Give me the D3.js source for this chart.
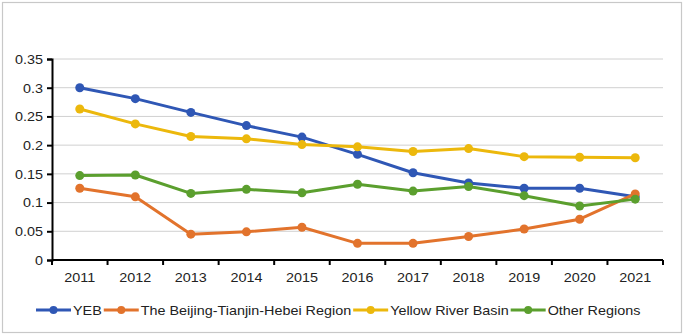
<!DOCTYPE html>
<html>
<head>
<meta charset="utf-8">
<script src="https://cdn.jsdelivr.net/npm/d3@7"></script>
<style>
  body { margin: 0; background: #fff; }
  svg { font-family: "Liberation Sans", Arial, sans-serif; }
  .grid line { stroke: #d0d0d0; stroke-width: 1; }
</style>
</head>
<body>
<div id="chart"></div>
<script>
var width = 685,
    height = 336;

var years = ["2011", "2012", "2013", "2014", "2015", "2016", "2017", "2018", "2019", "2020", "2021"];
var yTicks = [0, 0.05, 0.1, 0.15, 0.2, 0.25, 0.3, 0.35];

var seriesNames = ["YEB", "The Beijing-Tianjin-Hebei Region", "Yellow River Basin", "Other Regions"];
var seriesColors = ["#2f57b5", "#e2732c", "#ecb80c", "#5b9f2e"];

var yeb   = [0.300, 0.281, 0.257, 0.234, 0.214, 0.184, 0.152, 0.134, 0.125, 0.125, 0.110];
var bth   = [0.125, 0.110, 0.045, 0.049, 0.057, 0.029, 0.029, 0.041, 0.054, 0.071, 0.115];
var yrb   = [0.263, 0.237, 0.215, 0.211, 0.201, 0.197, 0.189, 0.194, 0.180, 0.179, 0.178];
var other = [0.147, 0.148, 0.116, 0.123, 0.117, 0.132, 0.120, 0.128, 0.112, 0.094, 0.106];

var allSeries = [yeb, bth, yrb, other];

var margin = {left: 52, right: 22, top: 59, bottom: 76};
var stretch = 1.15; // the source text is a little wide

var svg = d3.select("#chart").append("svg")
    .attr("width", width)
    .attr("height", height);

// outer frame
svg.append("rect")
    .attr("x", 2.5).attr("y", 2.5)
    .attr("width", 679).attr("height", 330)
    .attr("fill", "#fff")
    .attr("stroke", "#c8c8c8")
    .attr("stroke-width", 1.2);

var x = d3.scaleBand()
    .domain(years)
    .range([margin.left, width - margin.right]);

var y = d3.scaleLinear()
    .domain([0, 0.35])
    .range([height - margin.bottom, margin.top]);

// gridlines
svg.append("g")
    .attr("class", "grid")
  .selectAll("line")
    .data(yTicks.slice(1))
  .enter().append("line")
    .attr("x1", margin.left)
    .attr("x2", width - margin.right)
    .attr("y1", function(d) { return y(d); })
    .attr("y2", function(d) { return y(d); });

// y axis
var yAxis = svg.append("g")
    .attr("transform", "translate(" + margin.left + ",0)")
    .call(d3.axisLeft(y).tickValues(yTicks).tickFormat(function(d) { return d3.format("~g")(d); }).tickSize(5));
yAxis.select(".domain").attr("stroke", "#000").attr("stroke-width", 2);
yAxis.selectAll(".tick line").attr("stroke", "#000").attr("stroke-width", 2);
yAxis.selectAll("text")
    .attr("x", 0).attr("dy", null)
    .attr("transform", "translate(-9,4.3) scale(" + stretch + ",1)")
    .attr("font-size", 12.5).attr("fill", "#222");

// x axis, ticks at band boundaries
var xAxis = svg.append("g")
    .attr("transform", "translate(0," + y(0) + ")");
xAxis.append("line")
    .attr("x1", margin.left).attr("x2", width - margin.right)
    .attr("stroke", "#000").attr("stroke-width", 2);
var bounds = years.map(function(d) { return x(d); }).concat([x.range()[1]]);
xAxis.selectAll(".xtick")
    .data(bounds)
  .enter().append("line")
    .attr("x1", function(d) { return d; })
    .attr("x2", function(d) { return d; })
    .attr("y1", 0).attr("y2", 5)
    .attr("stroke", "#000").attr("stroke-width", 2);
xAxis.selectAll(".xlabel")
    .data(years)
  .enter().append("text")
    .attr("transform", function(d) {
      return "translate(" + (x(d) + x.bandwidth() / 2) + ",22) scale(" + stretch + ",1)";
    })
    .attr("text-anchor", "middle")
    .attr("font-size", 12.5)
    .attr("fill", "#222")
    .text(function(d) { return d; });

var line = d3.line()
    .x(function(d, i) { return x(years[i]) + x.bandwidth() / 2; })
    .y(function(d) { return y(d); });

var groups = svg.selectAll(".series")
    .data(allSeries)
  .enter().append("g")
    .attr("class", "series");

groups.append("path")
    .attr("d", line)
    .attr("fill", "none")
    .attr("stroke", function(d, i) { return seriesColors[i]; })
    .attr("stroke-width", 3)
    .attr("stroke-linejoin", "round");

groups.each(function(s, k) {
  d3.select(this).selectAll("circle")
      .data(s)
    .enter().append("circle")
      .attr("cx", function(d, i) { return x(years[i]) + x.bandwidth() / 2; })
      .attr("cy", function(d) { return y(d); })
      .attr("r", 4.5)
      .attr("fill", seriesColors[k]);
});

// legend
var legend = svg.append("g").attr("transform", "translate(36,310)");
var lx = 0;
seriesNames.forEach(function(name, i) {
  var g = legend.append("g").attr("transform", "translate(" + lx + ",0)");
  g.append("line").attr("x1", 0).attr("x2", 35)
      .attr("stroke", seriesColors[i]).attr("stroke-width", 3);
  g.append("circle").attr("cx", 17.5).attr("r", 4).attr("fill", seriesColors[i]);
  var t = g.append("text")
      .attr("transform", "translate(37,4.5) scale(" + stretch + ",1)")
      .attr("font-size", 12.5).attr("fill", "#222")
      .text(name);
  lx += 37 + t.node().getComputedTextLength() * stretch + 2;
});
</script>
</body>
</html>
